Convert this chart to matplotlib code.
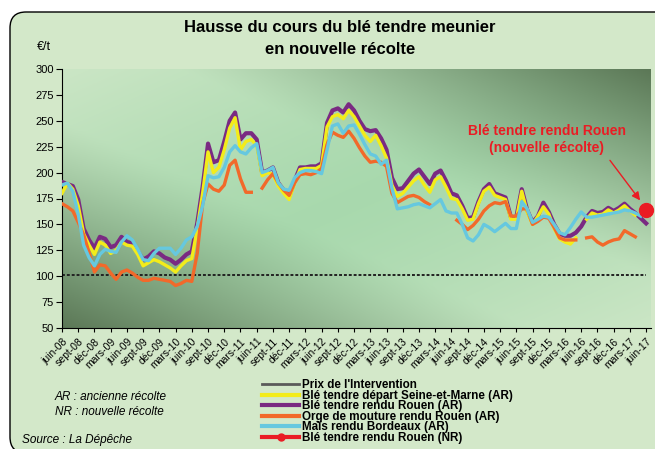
import numpy as np
import matplotlib
matplotlib.use("Agg")
import matplotlib.pyplot as plt
from matplotlib.lines import Line2D
from matplotlib.patches import FancyBboxPatch
from matplotlib.transforms import IdentityTransform

plt.rcParams['font.family'] = ['Liberation Sans', 'DejaVu Sans']

# mois de juin-08 a juin-17, un label tous les 3 mois
tick_labels = ["juin-08", "sept-08", "déc-08", "mars-09", "juin-09", "sept-09", "déc-09",
               "mars-10", "juin-10", "sept-10", "déc-10", "mars-11", "juin-11", "sept-11",
               "déc-11", "mars-12", "juin-12", "sept-12", "déc-12", "mars-13", "juin-13",
               "sept-13", "déc-13", "mars-14", "juin-14", "sept-14", "déc-14", "mars-15",
               "juin-15", "sept-15", "déc-15", "mars-16", "juin-16", "sept-16", "déc-16",
               "mars-17", "juin-17"]

intervention = 101.31

seine_marne = [180, 190, 184, 168, 141, 130, 121, 133, 130, 122, 125, 133,
               130, 129, 121, 110, 113, 116, 114, 111, 108, 104, 110, 115,
               117, 146, 180, 220, 200, 205, 222, 243, 253, 222, 230, 232,
               226, 197, 200, 198, 187, 180, 174, 190, 203, 204, 204, 204,
               207, 244, 254, 256, 252, 260, 254, 245, 236, 230, 236, 226,
               214, 188, 177, 180, 186, 192, 196, 188, 181, 193, 196, 186,
               175, 174, 165, 154, 155, 170, 182, 186, 178, 176, 174, 155,
               155, 182, 162, 150, 158, 167, 160, 146, 136, 133, 131, 137,
               None, 155, 161, 159, 160, 164, 161, 164, 168, 163, 159, None, None]

rouen_ar = [191, 189, 187, 174, 146, 135, 127, 138, 136, 128, 130, 138,
            133, 132, 124, 116, 119, 124, 122, 118, 116, 112, 116, 121,
            124, 151, 186, 228, 210, 212, 230, 250, 258, 232, 238, 238,
            232, 200, 202, 205, 190, 183, 177, 192, 205, 205, 206, 206,
            209, 248, 260, 262, 258, 266, 260, 250, 242, 240, 241, 233,
            222, 195, 184, 185, 192, 199, 203, 196, 189, 199, 202, 192,
            180, 178, 168, 156, 157, 172, 184, 189, 180, 178, 176, 157,
            157, 184, 164, 152, 158, 171, 162, 150, 141, 139, 139, 142,
            148, 157, 163, 161, 162, 166, 163, 166, 170, 165, 161, 156, 151]

orge = [170, 167, 163, 152, 140, 123, 104, 111, 110, 103, 97, 104,
        106, 103, 99, 96, 96, 98, 97, 96, 95, 91, 93, 96,
        95, 122, 170, 189, 184, 182, 188, 207, 212, 194, 181, 181,
        None, 185, 193, 199, 190, 183, 178, 190, 198, 199, 198, 200,
        204, 227, 239, 236, 234, 240, 233, 224, 216, 210, 211, 210,
        206, 180, 171, 174, 177, 178, 176, 172, 169, None, None, None,
        None, 154, 150, 145, 149, 155, 163, 168, 171, 170, 172, 158,
        158, 165, 165, 150, 153, 157, 156, 147, 137, 135, 135, 135,
        None, 137, 138, 133, 130, 133, 135, 136, 144, 141, 138, None, None]

mais = [188, 190, 182, 160, 130, 118, 110, 121, 126, 124, 123, 133,
        139, 135, 126, 116, 115, 122, 127, 127, 127, 121, 127, 135,
        138, 148, 168, 197, 195, 196, 205, 220, 226, 220, 218, 224,
        228, 200, 202, 205, 190, 184, 183, 195, 200, 202, 202, 201,
        199, 222, 245, 247, 238, 245, 246, 237, 227, 218, 216, 208,
        212, 185, 165, 166, 167, 169, 170, 168, 166, 170, 174, 163,
        161, 161, 150, 137, 134, 140, 150, 147, 143, 147, 151, 146,
        146, 172, 165, 152, 155, 158, 157, 150, 142, 140, 147, 155,
        162, 157, 157, 158, 159, 160, 161, 162, 164, 163, 161, 158, None]

# nouvelle recolte : un seul point, juin-17
rouen_nr_month = 108
rouen_nr = 164

months = np.arange(len(rouen_ar))

C_YELLOW = "#f3ec1a"
C_PURPLE = "#7a2a82"
C_ORANGE = "#f2692a"
C_CYAN = "#66c8df"
C_RED = "#ea1c24"

fig = plt.figure(figsize=(6.55, 4.49), dpi=100, facecolor="white")

# cadre vert arrondi
box = FancyBboxPatch((10, -4), 700, 441, boxstyle="round,pad=0,rounding_size=16",
                     transform=IdentityTransform(), facecolor="#d3e8c9",
                     edgecolor="black", linewidth=1.0, zorder=-10)
fig.patches.append(box)

ax = fig.add_axes([62 / 655, 1 - 328 / 449, 589 / 655, 259 / 449])
ax.set_facecolor("none")
ax.set_zorder(1)

# fond en degrade
nx, ny = 300, 150
u, v = np.meshgrid(np.linspace(0, 1, nx), np.linspace(1, 0, ny))
t = u + v - 1
s = np.abs(t)
d = np.abs(u - v)
pale = np.array([0.82, 0.91, 0.79])
mint = np.array([0.66, 0.85, 0.68])
dark = np.array([0.36, 0.47, 0.34])
w_pale = np.clip(d, 0, 1)[..., None] ** 1.3 * 0.85
col = mint * (1 - w_pale) + pale * w_pale
w_dark = np.clip((s - 0.2) / 0.8, 0, 1)[..., None] ** 1.2
col = col * (1 - w_dark) + dark * w_dark
ax.imshow(col, extent=[0, 1, 0, 1], transform=ax.transAxes, aspect="auto", zorder=0)

ax.plot(months, [intervention] * len(months), color="#222222", lw=1.4,
        linestyle=(0, (1.5, 1.0)), zorder=2)
ax.plot(months, np.array(rouen_ar, dtype=float), color=C_PURPLE, lw=3.0, zorder=3)
ax.plot(months, np.array(seine_marne, dtype=float), color=C_YELLOW, lw=2.4, zorder=4)
ax.plot(months, np.array(orge, dtype=float), color=C_ORANGE, lw=2.4, zorder=5)
ax.plot(months, np.array(mais, dtype=float), color=C_CYAN, lw=2.4, zorder=6)
ax.plot([rouen_nr_month], [rouen_nr], "o", color=C_RED, ms=10, zorder=7, clip_on=False)

ax.set_xlim(0, 108.9)
ax.set_ylim(50, 300)
ax.set_yticks(np.arange(50, 301, 25))
ax.set_xticks(np.arange(0, len(months), 3))
ax.set_xticklabels(tick_labels, rotation=45, ha="right", va="top",
                   rotation_mode="anchor", fontsize=7.5)
ax.tick_params(axis="x", length=3, width=0.8, pad=3)
ax.tick_params(axis="y", length=4, width=0.8, labelsize=8, pad=2)
ax.spines["top"].set_visible(False)
ax.spines["right"].set_visible(False)
ax.spines["left"].set_linewidth(0.8)
ax.spines["bottom"].set_linewidth(0.8)

ax.text(89.6, 232, "Blé tendre rendu Rouen\n(nouvelle récolte)", color=C_RED,
        fontsize=10, fontweight="bold", ha="center", va="center", linespacing=1.3, zorder=8)
ax.annotate("", xy=(107.2, 171), xytext=(101, 214),
            arrowprops=dict(arrowstyle="-|>", color=C_RED, lw=1.0, mutation_scale=12), zorder=8)

fig.text(340 / 655, 1 - 27 / 449, "Hausse du cours du blé tendre meunier",
         fontsize=12, fontweight="bold", ha="center", va="center")
fig.text(340 / 655, 1 - 49 / 449, "en nouvelle récolte",
         fontsize=12, fontweight="bold", ha="center", va="center")
fig.text(44 / 655, 1 - 47 / 449, "€/t", fontsize=9, ha="center", va="center")

fig.text(55 / 655, 1 - 397 / 449, "AR : ancienne récolte", fontsize=8.5, style="italic", va="center")
fig.text(55 / 655, 1 - 412 / 449, "NR : nouvelle récolte", fontsize=8.5, style="italic", va="center")
fig.text(22 / 655, 1 - 440 / 449, "Source : La Dépêche", fontsize=8.5, style="italic", va="center")

handles = [
    Line2D([], [], color="#5a5a5a", lw=2),
    Line2D([], [], color=C_YELLOW, lw=3),
    Line2D([], [], color=C_PURPLE, lw=3),
    Line2D([], [], color=C_ORANGE, lw=3),
    Line2D([], [], color=C_CYAN, lw=3),
    Line2D([], [], color=C_RED, lw=3, marker="o", ms=5),
]
labels = ["Prix de l'Intervention", "Blé tendre départ Seine-et-Marne (AR)",
          "Blé tendre rendu Rouen (AR)", "Orge de mouture rendu Rouen (AR)",
          "Maïs rendu Bordeaux (AR)", "Blé tendre rendu Rouen (NR)"]
leg = fig.legend(handles, labels, loc="upper left", bbox_to_anchor=(262 / 655, 1 - 379 / 449),
                 frameon=False, fontsize=8.4, handlelength=3.2, handletextpad=0.2,
                 labelspacing=-0.12, borderpad=0, borderaxespad=0)
for txt in leg.get_texts():
    txt.set_fontweight("bold")

fig.savefig("out.png", dpi=100, facecolor="white")
